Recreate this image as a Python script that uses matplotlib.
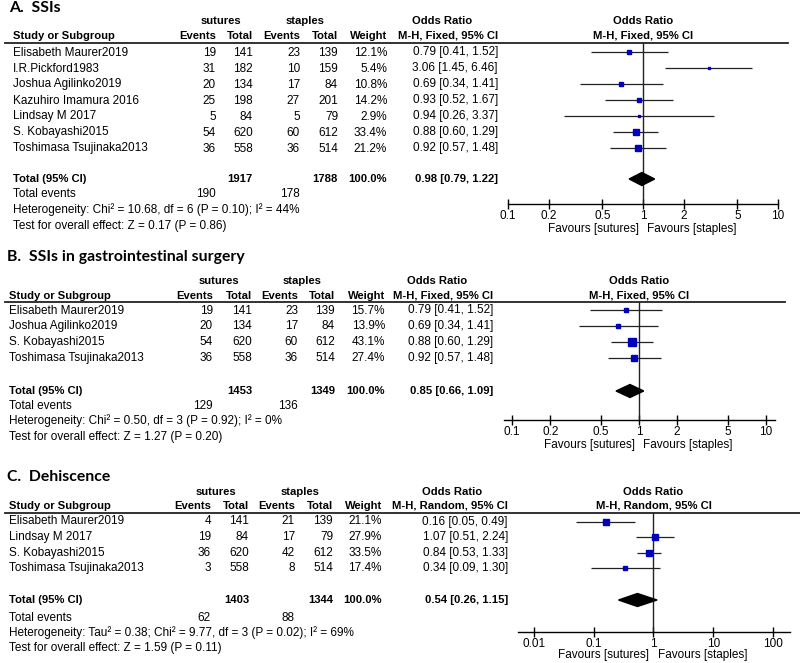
import matplotlib
matplotlib.use("Agg")
import matplotlib.pyplot as plt
from matplotlib.patches import Polygon
import numpy as np

plt.rcParams['font.family'] = ['Liberation Sans', 'DejaVu Sans']

# ---------------- data ----------------
# A. SSIs
studies_a = ["Elisabeth Maurer2019", "I.R.Pickford1983", "Joshua Agilinko2019",
             "Kazuhiro Imamura 2016", "Lindsay M 2017", "S. Kobayashi2015",
             "Toshimasa Tsujinaka2013"]
sut_ev_a = [19, 31, 20, 25, 5, 54, 36]
sut_tot_a = [141, 182, 134, 198, 84, 620, 558]
sta_ev_a = [23, 10, 17, 27, 5, 60, 36]
sta_tot_a = [139, 159, 84, 201, 79, 612, 514]
weight_a = [12.1, 5.4, 10.8, 14.2, 2.9, 33.4, 21.2]
or_a = [0.79, 3.06, 0.69, 0.93, 0.94, 0.88, 0.92]
lo_a = [0.41, 1.45, 0.34, 0.52, 0.26, 0.60, 0.57]
hi_a = [1.52, 6.46, 1.41, 1.67, 3.37, 1.29, 1.48]
total_a = [1917, 1788, 0.98, 0.79, 1.22]
events_a = [190, 178]
het_a = "Heterogeneity: Chi\u00b2 = 10.68, df = 6 (P = 0.10); I\u00b2 = 44%"
test_a = "Test for overall effect: Z = 0.17 (P = 0.86)"

# B. SSIs in gastrointestinal surgery
studies_b = ["Elisabeth Maurer2019", "Joshua Agilinko2019", "S. Kobayashi2015",
             "Toshimasa Tsujinaka2013"]
sut_ev_b = [19, 20, 54, 36]
sut_tot_b = [141, 134, 620, 558]
sta_ev_b = [23, 17, 60, 36]
sta_tot_b = [139, 84, 612, 514]
weight_b = [15.7, 13.9, 43.1, 27.4]
or_b = [0.79, 0.69, 0.88, 0.92]
lo_b = [0.41, 0.34, 0.60, 0.57]
hi_b = [1.52, 1.41, 1.29, 1.48]
total_b = [1453, 1349, 0.85, 0.66, 1.09]
events_b = [129, 136]
het_b = "Heterogeneity: Chi\u00b2 = 0.50, df = 3 (P = 0.92); I\u00b2 = 0%"
test_b = "Test for overall effect: Z = 1.27 (P = 0.20)"

# C. Dehiscence
studies_c = ["Elisabeth Maurer2019", "Lindsay M 2017", "S. Kobayashi2015",
             "Toshimasa Tsujinaka2013"]
sut_ev_c = [4, 19, 36, 3]
sut_tot_c = [141, 84, 620, 558]
sta_ev_c = [21, 17, 42, 8]
sta_tot_c = [139, 79, 612, 514]
weight_c = [21.1, 27.9, 33.5, 17.4]
or_c = [0.16, 1.07, 0.84, 0.34]
lo_c = [0.05, 0.51, 0.53, 0.09]
hi_c = [0.49, 2.24, 1.33, 1.30]
total_c = [1403, 1344, 0.54, 0.26, 1.15]
events_c = [62, 88]
het_c = "Heterogeneity: Tau\u00b2 = 0.38; Chi\u00b2 = 9.77, df = 3 (P = 0.02); I\u00b2 = 69%"
test_c = "Test for overall effect: Z = 1.59 (P = 0.11)"

ticks_ab = [0.1, 0.2, 0.5, 1, 2, 5, 10]
ticklabels_ab = ["0.1", "0.2", "0.5", "1", "2", "5", "10"]
ticks_c = [0.01, 0.1, 1, 10, 100]
ticklabels_c = ["0.01", "0.1", "1", "10", "100"]

# ---------------- figure ----------------
W, H = 800, 663
FS = 8.5     # regular text
FSB = 8.1    # bold text (bold Arial runs wider)
BLUE = '#0000BF'

fig = plt.figure(figsize=(W / 100, H / 100), dpi=100)
base = fig.add_axes([0, 0, 1, 1])
base.set_xlim(0, W)
base.set_ylim(H, 0)
base.axis('off')


def txt(x, y, s, ha='left', bold=False):
    base.text(x, y, s, ha=ha, va='center', fontsize=FSB if bold else FS,
              fontweight='bold' if bold else 'normal')


def draw_panel(lay, names, se, st, pe, pt, wt, orv, lo, hi, tot, ev, het, test,
               ticks, ticklabels):
    nx = lay['name_x']
    c = lay['cols']
    base.text(lay['title_x'], lay['title_y'], lay['title'], ha='left', va='center',
              fontsize=11.3, fontweight='bold', family=['Lato', 'DejaVu Sans'])

    # header
    y1, y2 = lay['h1'], lay['h2']
    txt((c[0] + c[1]) / 2 - 14, y1, "sutures", ha='center', bold=True)
    txt((c[2] + c[3]) / 2 - 14, y1, "staples", ha='center', bold=True)
    txt(c[5] - 56, y1, "Odds Ratio", ha='center', bold=True)
    txt(nx, y2, "Study or Subgroup", bold=True)
    txt(c[0], y2, "Events", ha='right', bold=True)
    txt(c[1], y2, "Total", ha='right', bold=True)
    txt(c[2], y2, "Events", ha='right', bold=True)
    txt(c[3], y2, "Total", ha='right', bold=True)
    txt(c[4], y2, "Weight", ha='right', bold=True)
    txt(c[5], y2, lay['method'], ha='right', bold=True)
    base.plot([5, lay['line_x1']], [lay['line'], lay['line']], color='#222222', lw=1.3)

    rows = [lay['row0'] + i * lay['step'] for i in range(len(names))]
    for i, y in enumerate(rows):
        txt(nx, y, names[i])
        txt(c[0], y, str(se[i]), ha='right')
        txt(c[1], y, str(st[i]), ha='right')
        txt(c[2], y, str(pe[i]), ha='right')
        txt(c[3], y, str(pt[i]), ha='right')
        txt(c[4], y, "%.1f%%" % wt[i], ha='right')
        txt(c[5], y, "%.2f [%.2f, %.2f]" % (orv[i], lo[i], hi[i]), ha='right')

    ty = lay['tot']
    txt(nx, ty, "Total (95% CI)", bold=True)
    txt(c[1], ty, str(tot[0]), ha='right', bold=True)
    txt(c[3], ty, str(tot[1]), ha='right', bold=True)
    txt(c[4], ty, "100.0%", ha='right', bold=True)
    txt(c[5], ty, "%.2f [%.2f, %.2f]" % (tot[2], tot[3], tot[4]), ha='right', bold=True)
    txt(nx, lay['ev'], "Total events")
    txt(c[0], lay['ev'], str(ev[0]), ha='right')
    txt(c[2], lay['ev'], str(ev[1]), ha='right')
    txt(nx, lay['het'], het)
    txt(nx, lay['test'], test)

    # forest plot
    fx0, fx1 = lay['fx']
    ay = lay['axis']
    fax = fig.add_axes([fx0 / W, 1 - ay / H, (fx1 - fx0) / W, (ay - lay['line']) / H])
    fax.set_xscale('log')
    fax.set_xlim(lay['xlim'])
    fax.set_ylim(ay, lay['line'])
    fax.patch.set_visible(False)
    for s in ['top', 'left', 'right']:
        fax.spines[s].set_visible(False)
    fax.spines['bottom'].set_linewidth(1.0)
    fax.set_yticks([])
    fax.set_xticks(ticks)
    fax.set_xticklabels(ticklabels, fontsize=FS)
    fax.minorticks_off()
    fax.tick_params(axis='x', direction='inout', length=7, width=1.0, pad=1)
    fax.axvline(1, color='#222222', lw=1.0)

    fax.hlines(rows, lo, hi, color='#222222', lw=0.9)
    for i, y in enumerate(rows):
        fax.plot(orv[i], y, 's', color=BLUE, mec=BLUE,
                 ms=0.85 * np.sqrt(wt[i]), zorder=3)
    dia = Polygon([(tot[3], ty), (tot[2], ty - 6.5), (tot[4], ty), (tot[2], ty + 6.5)],
                  closed=True, facecolor='black', edgecolor='black', zorder=3)
    fax.add_patch(dia)

    fax.text(1, y1, "Odds Ratio", ha='center', va='center', fontsize=FSB,
             fontweight='bold', clip_on=False)
    fax.text(1, y2, lay['method'], ha='center', va='center', fontsize=FSB,
             fontweight='bold', clip_on=False)
    fax.annotate("Favours [sutures]", xy=(1, lay['fav']), xytext=(-3, 0),
                 textcoords='offset points', ha='right', va='center', fontsize=FS,
                 annotation_clip=False)
    fax.annotate("Favours [staples]", xy=(1, lay['fav']), xytext=(3, 0),
                 textcoords='offset points', ha='left', va='center', fontsize=FS,
                 annotation_clip=False)


lay_a = dict(title="A.  SSIs", title_x=9, title_y=8, name_x=13,
             cols=[216, 253, 300, 338, 387, 498], h1=21, h2=36, line=43,
             line_x1=788, row0=52.5, step=16, tot=179, ev=194, het=210, test=226,
             method="M-H, Fixed, 95% CI", fx=(508, 778), xlim=(0.1, 10),
             axis=204, fav=229)
lay_b = dict(title="B.  SSIs in gastrointestinal surgery", title_x=7, title_y=257,
             name_x=9, cols=[213, 252, 298, 335, 385, 493], h1=281, h2=296,
             line=302, line_x1=785, row0=310.5, step=15.7, tot=391, ev=406,
             het=421, test=437, method="M-H, Fixed, 95% CI", fx=(504, 775),
             xlim=(0.0865, 11.8), axis=420, fav=445)
lay_c = dict(title="C.  Dehiscence", title_x=7, title_y=477, name_x=9,
             cols=[211, 249, 295, 333, 382, 508], h1=492, h2=506, line=513,
             line_x1=800, row0=521.5, step=15.6, tot=600, ev=618, het=633,
             test=648, method="M-H, Random, 95% CI", fx=(518, 790),
             xlim=(0.0054, 193), axis=632, fav=655)

draw_panel(lay_a, studies_a, sut_ev_a, sut_tot_a, sta_ev_a, sta_tot_a, weight_a,
           or_a, lo_a, hi_a, total_a, events_a, het_a, test_a,
           ticks_ab, ticklabels_ab)
draw_panel(lay_b, studies_b, sut_ev_b, sut_tot_b, sta_ev_b, sta_tot_b, weight_b,
           or_b, lo_b, hi_b, total_b, events_b, het_b, test_b,
           ticks_ab, ticklabels_ab)
draw_panel(lay_c, studies_c, sut_ev_c, sut_tot_c, sta_ev_c, sta_tot_c, weight_c,
           or_c, lo_c, hi_c, total_c, events_c, het_c, test_c,
           ticks_c, ticklabels_c)

fig.savefig("out.png", dpi=100)
